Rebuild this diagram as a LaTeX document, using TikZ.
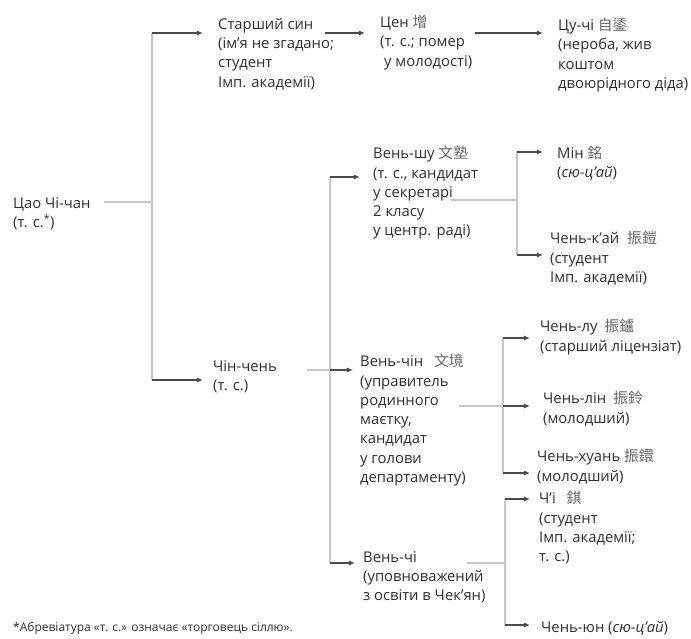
\documentclass[tikz,border=0pt]{standalone}
\usepackage{fontspec}
\setmainfont{Open Sans}
\newfontfamily\cjk{Noto Sans CJK TC}
\usetikzlibrary{arrows.meta}
\definecolor{txt}{HTML}{2E2E2E}
\definecolor{lite}{HTML}{C8C8C8}
\definecolor{dark}{HTML}{4A4A4A}
\newcommand{\hz}[1]{{\cjk\color{black!60}#1}}
\tikzset{
  lbl/.style={anchor=north west, inner sep=0pt, align=left, text=txt,
    font=\fontsize{14.8}{19.3}\selectfont, execute at begin node=\strut},
  conn/.style={draw=lite, line width=1.1pt},
  arr/.style={draw=dark, line width=1.1pt, -{Latex[length=6pt,width=5pt]}, shorten >=10pt}
}
\begin{document}
\begin{tikzpicture}[x=1pt,y=-1pt]
  \useasboundingbox (0,0) rectangle (691,639);
  % people
  \node[lbl] (cao) at (13,197) {Цао Чі-чан\\(т. с.\textsuperscript{*})};
  \node[lbl] (stsyn) at (218,18) {Старший син\\(ім’я не згадано;\\студент\\Імп. академії)};
  \node[lbl] (tsen) at (380,15) {Цен \hz{增}\\(т. с.; помер\\\hspace{4pt}у молодості)};
  \node[lbl] (tsuchi) at (558,18) {Цу-чі \hz{自鋈}\\(нероба, жив\\коштом\\двоюрідного діда)};
  \node[lbl] (chin) at (213,360) {Чін-чень\\(т. с.)};
  \node[lbl] (vensh) at (373,146) {Вень-шу \hz{文塾}\\(т. с., кандидат\\у секретарі\\2 класу\\у центр. раді)};
  \node[lbl] (min) at (557,146) {Мін \hz{銘}\\(\textit{сю-ц’ай})};
  \node[lbl] (kai) at (550,231) {Чень-к’ай\hspace{8pt}\hz{振鎧}\\(студент\\Імп. академії)};
  \node[lbl] (venchin) at (360,354) {Вень-чін\hspace{11pt}\hz{文境}\\(управитель\\родинного\\маєтку,\\кандидат\\у голови\\департаменту)};
  \node[lbl] (chlu) at (540,319) {Чень-лу\hspace{7pt}\hz{振鑪}\\(старший ліцензіат)};
  \node[lbl] (chlin) at (543,391) {Чень-лін\hspace{7pt}\hz{振鈴}\\(молодший)};
  \node[lbl] (chhuan) at (537,449) {Чень-хуань \hz{振鐶}\\(молодший)};
  \node[lbl] (venchi) at (363,551) {Вень-чі\\(уповноважений\\з освіти в Чек’ян)};
  \node[lbl] (chi) at (539,491) {Ч’і\hspace{11pt}\hz{錤}\\(студент\\Імп. академії;\\т. с.)};
  \node[lbl] (chyun) at (541,619) {Чень-юн (\textit{сю-ц’ай})};
  \node[lbl, font=\fontsize{12}{14}\selectfont] (note) at (13,621)
    {*Абревіатура «т. с.» означає «торговець сіллю».};
  % first split
  \coordinate (j1) at (152,202);
  \coordinate (t1) at (152,33);
  \coordinate (b1) at (152,380);
  \draw[conn] ([xshift=13pt]cao.east |- j1) -- (j1);
  \draw[conn] (t1) -- (b1);
  \draw[arr, shorten >=15pt] (t1) -- (t1 -| stsyn.west);
  \draw[arr] (b1) -- (b1 -| chin.west);
  \draw[arr, shorten >=15pt] ([xshift=-9pt]stsyn.east |- t1) -- (t1 -| tsen.west);
  \draw[arr, shorten >=15pt] ([xshift=3pt]tsen.east |- t1) -- (t1 -| tsuchi.west);
  % sons of Chin-chen
  \coordinate (j2) at (330,370);
  \coordinate (t2) at (330,177);
  \coordinate (b2) at (330,563);
  \draw[conn] ([xshift=30pt]chin.east |- j2) -- (j2);
  \draw[conn] (t2) -- (b2);
  \draw[arr, shorten >=13pt] (t2) -- (t2 -| vensh.west);
  \draw[arr, shorten >=7pt] (j2) -- (j2 -| venchin.west);
  \draw[arr, shorten >=8pt] (b2) -- (b2 -| venchi.west);
  % Ven-shu
  \coordinate (j3) at (517,200);
  \coordinate (t3) at (517,152);
  \coordinate (b3) at (517,255);
  \draw[conn] ([xshift=-27pt]vensh.east |- j3) -- (j3);
  \draw[conn] (t3) -- (b3);
  \draw[arr, shorten >=14pt] (t3) -- (t3 -| min.west);
  \draw[arr, shorten >=7pt] (b3) -- (b3 -| kai.west);
  % Ven-chin
  \coordinate (j4) at (503,406);
  \coordinate (t4) at (503,338);
  \coordinate (b4) at (503,473);
  \draw[conn] ([xshift=-7pt]venchin.east |- j4) -- (j4);
  \draw[conn] (t4) -- (b4);
  \draw[arr] (t4) -- (t4 -| chlu.west);
  \draw[arr, shorten >=13pt] (j4) -- (j4 -| chlin.west);
  \draw[arr, shorten >=7pt] (b4) -- (b4 -| chhuan.west);
  % Ven-chi
  \coordinate (j5) at (505,563);
  \coordinate (t5) at (505,499);
  \coordinate (b5) at (505,625);
  \draw[conn] ([xshift=-19pt]venchi.east |- j5) -- (j5);
  \draw[conn] (t5) -- (b5);
  \draw[arr, shorten >=9pt] (t5) -- (t5 -| chi.west);
  \draw[arr, shorten >=11pt] (b5) -- (b5 -| chyun.west);
\end{tikzpicture}
\end{document}
